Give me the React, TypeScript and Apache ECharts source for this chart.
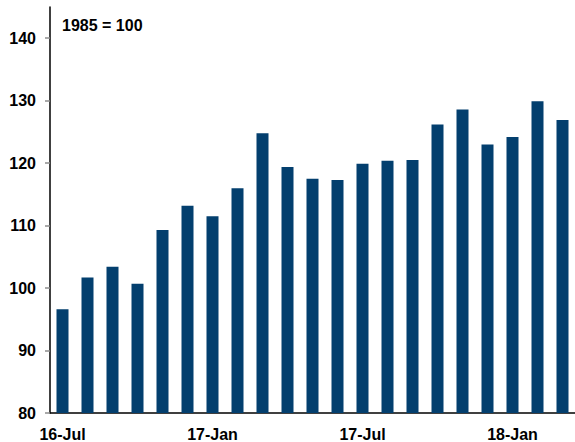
import React, { useEffect, useRef } from "react";
import * as echarts from "echarts";

// Monthly index readings, Jul 2016 – Mar 2018 (1985 = 100)
const months: string[] = [
  "16-Jul", "16-Aug", "16-Sep", "16-Oct", "16-Nov", "16-Dec",
  "17-Jan", "17-Feb", "17-Mar", "17-Apr", "17-May", "17-Jun",
  "17-Jul", "17-Aug", "17-Sep", "17-Oct", "17-Nov", "17-Dec",
  "18-Jan", "18-Feb", "18-Mar",
];
const indexValues: number[] = [
  96.6, 101.7, 103.4, 100.7, 109.3, 113.2,
  111.5, 116.0, 124.8, 119.4, 117.5, 117.3,
  119.9, 120.4, 120.5, 126.2, 128.6, 123.0,
  124.2, 129.9, 126.9,
];
const yTicks: number[] = [80, 90, 100, 110, 120, 130, 140];
const baseNote = "1985 = 100";

const FONT = "'Liberation Sans', Arial, sans-serif";

export default function App() {
  const ref = useRef<HTMLDivElement>(null);

  useEffect(() => {
    if (!ref.current) return;
    const chart = echarts.init(ref.current, null, { renderer: "svg" });
    chart.setOption({
      animation: false,
      backgroundColor: "#ffffff",
      grid: { left: 50, right: -4, top: 7, bottom: 28, containLabel: false },
      graphic: [
        {
          type: "text",
          left: 62,
          top: 17,
          style: {
            text: baseNote,
            font: `bold 16px ${FONT}`,
            fill: "#000000",
          },
        },
      ],
      xAxis: {
        type: "category",
        data: months,
        boundaryGap: true,
        axisLine: { lineStyle: { color: "#000000", width: 1.5 } },
        axisTick: {
          interval: 5,
          length: 5,
          lineStyle: { color: "#8c8c8c", width: 1.5 },
        },
        axisLabel: {
          interval: 5,
          margin: 13,
          color: "#000000",
          fontFamily: FONT,
          fontWeight: "bold",
          fontSize: 16,
        },
      },
      yAxis: {
        type: "value",
        min: 80,
        max: 145,
        interval: 10,
        splitLine: { show: false },
        axisLine: { show: true, lineStyle: { color: "#000000", width: 1.5 } },
        axisTick: {
          show: true,
          length: 5,
          customValues: yTicks,
          lineStyle: { color: "#8c8c8c", width: 1.5 },
        },
        axisLabel: {
          customValues: yTicks,
          margin: 14,
          color: "#000000",
          fontFamily: FONT,
          fontWeight: "bold",
          fontSize: 16,
        },
      },
      series: [
        {
          type: "bar",
          data: indexValues,
          barWidth: 12,
          itemStyle: { color: "#033f6e" },
        },
      ],
    });
    return () => chart.dispose();
  }, []);

  return (
    <div
      ref={ref}
      style={{ position: "fixed", left: 0, top: 0, width: 575, height: 442 }}
    />
  );
}
